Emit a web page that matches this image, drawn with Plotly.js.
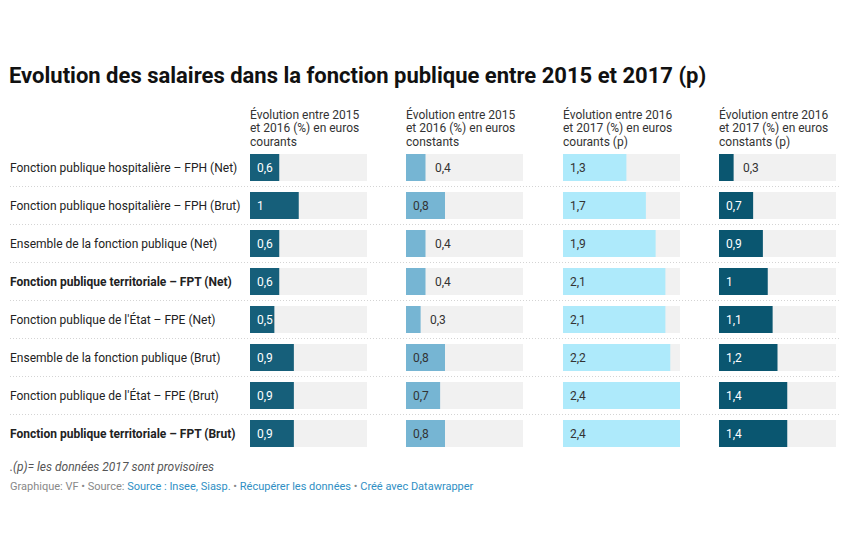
<!DOCTYPE html>
<html>
<head>
<meta charset="utf-8">
<script src="https://cdn.plot.ly/plotly-3.0.1.min.js"></script>
<style>html,body{margin:0;padding:0;background:#fff;}#chart{width:850px;height:550px;}</style>
</head>
<body>
<div id="chart"></div>
<script>
// ---- Data ----
const categories = [
  "Fonction publique hospitalière – FPH (Net)",
  "Fonction publique hospitalière – FPH (Brut)",
  "Ensemble de la fonction publique (Net)",
  "Fonction publique territoriale – FPT (Net)",
  "Fonction publique de l'État – FPE (Net)",
  "Ensemble de la fonction publique (Brut)",
  "Fonction publique de l'État – FPE (Brut)",
  "Fonction publique territoriale – FPT (Brut)"
];
const highlighted = [
  "Fonction publique territoriale – FPT (Net)",
  "Fonction publique territoriale – FPT (Brut)"
];
const columnHeaders = [
  "Évolution entre 2015<br>et 2016 (%) en euros<br>courants",
  "Évolution entre 2015<br>et 2016 (%) en euros<br>constants",
  "Évolution entre 2016<br>et 2017 (%) en euros<br>courants (p)",
  "Évolution entre 2016<br>et 2017 (%) en euros<br>constants (p)"
];
const courants2016 = [0.6, 1, 0.6, 0.6, 0.5, 0.9, 0.9, 0.9];
const constants2016 = [0.4, 0.8, 0.4, 0.4, 0.3, 0.8, 0.7, 0.8];
const courants2017 = [1.3, 1.7, 1.9, 2.1, 2.1, 2.2, 2.4, 2.4];
const constants2017 = [0.3, 0.7, 0.9, 1, 1.1, 1.2, 1.4, 1.4];
const titleText = "Evolution des salaires dans la fonction publique entre 2015 et 2017 (p)";
const noteText = ".(p)= les données 2017 sont provisoires";

// ---- Styling ----
const W = 850, H = 550;
const px = x => x / W;
const py = y => 1 - y / H;
const FONT = "Roboto, 'Noto Sans', sans-serif";
const columns = [
  {values: courants2016, color: "#165f7a", dark: true, x0: 250},
  {values: constants2016, color: "#76b5d3", dark: false, x0: 406},
  {values: courants2017, color: "#aeeafb", dark: false, x0: 563},
  {values: constants2017, color: "#0a5670", dark: true, x0: 719}
];
const colWidth = 117;
const maxVal = Math.max(...courants2016, ...constants2016, ...courants2017, ...constants2017);
const fmt = v => String(v).replace('.', ',');
const textWidth = s => { let w = 0; for (const c of s) w += (c === ',' ? 2.6 : 6.7); return w; };

const traces = [];
const annotations = [];
const layout = {
  width: W, height: H,
  margin: {l: 0, r: 0, t: 0, b: 0},
  paper_bgcolor: "#fff", plot_bgcolor: "rgba(0,0,0,0)",
  showlegend: false,
  barmode: "overlay",
  bargap: 1 - 27 / 38,
  font: {family: FONT, size: 12, color: "#333"},
  title: {
    text: "<b>" + titleText + "</b>",
    x: px(9), xref: "paper", xanchor: "left",
    y: 1 - 75 / H, yref: "container", yanchor: "middle",
    font: {family: FONT, size: 22, color: "#111"}
  },
  yaxis: {
    type: "category", categoryorder: "array", categoryarray: categories,
    range: [categories.length - 0.5, -0.5],
    domain: [py(452.5), py(148.5)],
    visible: false, fixedrange: true
  },
  shapes: [],
  annotations: annotations
};

columns.forEach((col, i) => {
  const xa = i === 0 ? "x" : "x" + (i + 1);
  const axKey = i === 0 ? "xaxis" : "xaxis" + (i + 1);
  layout[axKey] = {
    domain: [px(col.x0), px(col.x0 + colWidth)],
    range: [0, maxVal], visible: false, fixedrange: true, anchor: "y"
  };
  traces.push({
    type: "bar", orientation: "h", xaxis: xa, yaxis: "y",
    y: categories, x: categories.map(() => maxVal),
    marker: {color: "#f1f1f1"}, hoverinfo: "skip"
  });
  traces.push({
    type: "bar", orientation: "h", xaxis: xa, yaxis: "y",
    y: categories, x: col.values,
    marker: {color: col.color}, hoverinfo: "x+y"
  });
  col.values.forEach((v, j) => {
    const label = fmt(v);
    const barPx = v / maxVal * colWidth;
    const inside = barPx >= textWidth(label) + 8;
    const white = inside && col.dark;
    annotations.push({
      xref: xa, yref: "y", x: inside ? 0 : v, y: categories[j],
      xanchor: "left", yanchor: "middle", xshift: inside ? 5 : 7,
      showarrow: false,
      text: label,
      font: {family: FONT, size: 12, color: white ? "#ffffff" : "#333333"}
    });
  });
  // header lines
  columnHeaders[i].split("<br>").forEach((line, k) => {
    annotations.push({
      xref: "paper", yref: "paper", x: px(col.x0), y: py(114 + k * 14),
      xanchor: "left", yanchor: "middle", showarrow: false, xshift: -2,
      text: line, font: {family: FONT, size: 12, color: "#333"}
    });
  });
});

// row labels
categories.forEach(c => {
  annotations.push({
    xref: "paper", yref: "y", x: px(10), y: c,
    xanchor: "left", yanchor: "middle", showarrow: false, xshift: -2,
    text: highlighted.includes(c) ? "<b>" + c + "</b>" : c,
    font: {family: FONT, size: 12, color: "#222"}
  });
});

// dotted separators
for (let k = 0; k < categories.length - 1; k++) {
  layout.shapes.push({
    type: "line", xref: "paper", yref: "y",
    x0: px(10), x1: px(840), y0: k + 0.5, y1: k + 0.5,
    line: {color: "#d4d4d4", width: 1, dash: "1px,2px"}
  });
}

// footnote & source
annotations.push({
  xref: "paper", yref: "paper", x: px(10), y: py(467),
  xanchor: "left", yanchor: "middle", showarrow: false, xshift: -2,
  text: "<i>" + noteText + "</i>",
  font: {family: FONT, size: 12, color: "#555"}
});
annotations.push({
  xref: "paper", yref: "paper", x: px(10), y: py(486),
  xanchor: "left", yanchor: "middle", showarrow: false, xshift: -2,
  text: "Graphique: VF • Source: <span style=\"color:#2f8fc4\">Source : Insee, Siasp.</span> • <span style=\"color:#2f8fc4\">Récupérer les données</span> • <span style=\"color:#2f8fc4\">Créé avec Datawrapper</span>",
  font: {family: FONT, size: 11, color: "#888"}
});

Plotly.newPlot("chart", traces, layout, {displayModeBar: false, staticPlot: true});
</script>
</body>
</html>
